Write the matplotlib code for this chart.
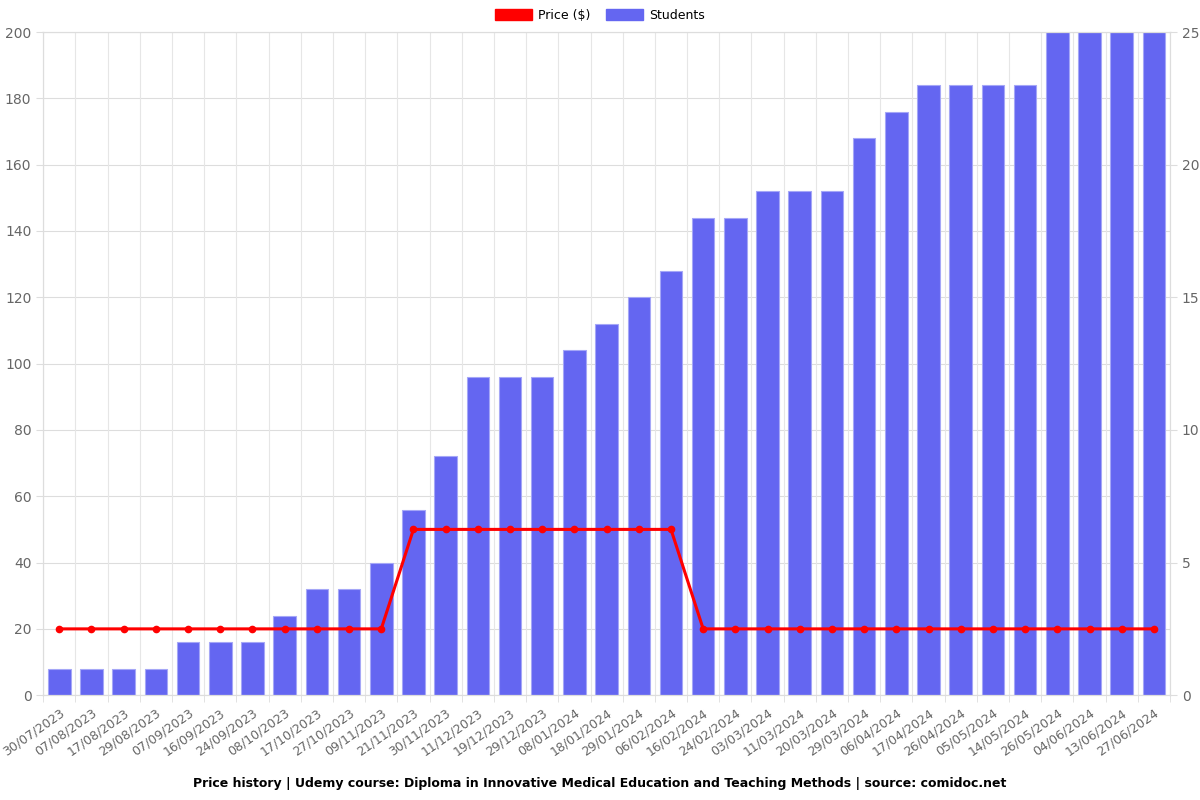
import matplotlib.pyplot as plt
import numpy as np
from matplotlib.patches import Patch

dates = ['30/07/2023', '07/08/2023', '17/08/2023', '29/08/2023', '07/09/2023',
         '16/09/2023', '24/09/2023', '08/10/2023', '17/10/2023', '27/10/2023',
         '09/11/2023', '21/11/2023', '30/11/2023', '11/12/2023', '19/12/2023',
         '29/12/2023', '08/01/2024', '18/01/2024', '29/01/2024', '06/02/2024',
         '16/02/2024', '24/02/2024', '03/03/2024', '11/03/2024', '20/03/2024',
         '29/03/2024', '06/04/2024', '17/04/2024', '26/04/2024', '05/05/2024',
         '14/05/2024', '26/05/2024', '04/06/2024', '13/06/2024', '27/06/2024']
students = [1, 1, 1, 1, 2, 2, 2, 3, 4, 4, 5, 7, 9, 12, 12, 12, 13, 14, 15, 16,
            18, 18, 19, 19, 19, 21, 22, 23, 23, 23, 23, 25, 25, 25, 25]
price = [20] * 11 + [50] * 9 + [20] * 15

bar_color = '#6466f1'
grid_color = '#dddddd'
text_color = '#666666'

fig = plt.figure(figsize=(12, 8), dpi=100)
ax = fig.add_axes([0.036, 0.131, 0.939, 0.829])
ax2 = ax.twinx()

x = np.arange(len(dates))
ax2.bar(x, students, width=0.7, color=bar_color, edgecolor='#a5a7f7',
        linewidth=0.8, zorder=2)
ax.plot(x, price, color='#ff0000', linewidth=2.2, marker='o', markersize=4.5, zorder=5)

ax.set_zorder(ax2.get_zorder() + 1)
ax.patch.set_visible(False)
ax2.patch.set_visible(True)

ax.set_xlim(-0.5, len(dates) - 0.5)
ax.set_ylim(0, 200)
ax2.set_ylim(0, 25)
ax.set_yticks(np.arange(0, 201, 20))
ax2.set_yticks(np.arange(0, 26, 5))

ax.set_xticks(x)
ax.set_xticklabels(dates, rotation=35, ha='right', rotation_mode='anchor')
ax.set_xticks(np.arange(-0.5, len(dates), 1), minor=True)
ax.tick_params(axis='x', which='major', length=0, pad=8, labelsize=9, colors=text_color)
ax.tick_params(axis='x', which='minor', length=5, color=grid_color)
ax.tick_params(axis='y', length=5, color=grid_color, labelsize=10, colors=text_color)
ax2.tick_params(axis='y', length=5, color=grid_color, labelsize=10, colors=text_color)

# grid drawn on the bar axes so it stays behind the bars
for yv in np.arange(0, 201, 20):
    ax2.axhline(yv / 8, color=grid_color, linewidth=0.8, zorder=0)
for xv in np.arange(-0.5, len(dates), 1):
    ax2.axvline(xv, color='#e6e6e6', linewidth=0.8, zorder=0)

for a in (ax, ax2):
    for s in a.spines.values():
        s.set_color(grid_color)

handles = [Patch(color='#ff0000', label='Price ($)'),
           Patch(color=bar_color, label='Students')]
fig.legend(handles=handles, loc='upper center', bbox_to_anchor=(0.5, 1.003), ncol=2,
           frameon=False, fontsize=9, handlelength=3, handleheight=1.0,
           columnspacing=1.2, handletextpad=0.5)

fig.text(0.5, 0.021, 'Price history | Udemy course: Diploma in Innovative Medical Education '
         'and Teaching Methods | source: comidoc.net',
         ha='center', va='center', fontsize=9, fontweight='bold')

fig.savefig('out.png', dpi=100)
